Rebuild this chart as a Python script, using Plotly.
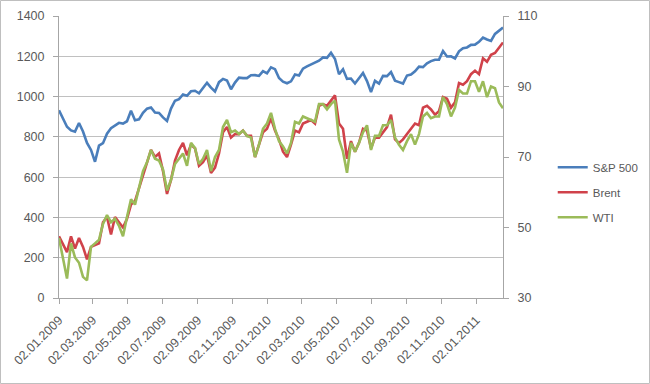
import datetime as dt
import plotly.graph_objects as go

# Weekly observations starting 02.01.2009
start_date = "2009-01-02"

sp500 = [931.8, 890.4, 850.1, 831.9, 825.9, 868.6, 826.8, 770.1, 735.1, 676.5, 756.6, 768.5, 815.9,
         842.5, 856.6, 869.6, 866.2, 877.5, 929.2, 882.9, 887.0, 919.1, 940.1, 946.2, 921.2, 918.9,
         896.4, 879.1, 940.4, 979.3, 987.5, 1010.5, 1004.1, 1026.1, 1028.9, 1016.4, 1042.7, 1068.3, 1044.4,
         1025.2, 1071.5, 1087.7, 1079.6, 1036.2, 1069.3, 1093.5, 1091.4, 1091.5, 1106.0, 1106.4, 1102.5, 1126.5,
         1115.1, 1145.0, 1136.0, 1091.8, 1073.9, 1066.2, 1075.5, 1109.2, 1104.5, 1138.7, 1150.0, 1159.9, 1166.6,
         1178.1, 1194.4, 1192.1, 1217.3, 1186.7, 1110.9, 1135.7, 1087.7, 1089.4, 1064.9, 1091.6, 1117.5, 1076.8,
         1022.6, 1078.0, 1064.9, 1102.7, 1101.6, 1121.6, 1079.3, 1071.7, 1064.6, 1104.5, 1109.6, 1125.6, 1148.7,
         1146.2, 1165.2, 1176.2, 1183.1, 1183.3, 1225.9, 1199.2, 1199.7, 1189.4, 1224.7, 1240.4, 1243.9, 1256.8,
         1257.6, 1271.5, 1293.2, 1283.4, 1276.3, 1310.9, 1329.2, 1343.0]

brent = [47.5, 45.0, 43.0, 47.5, 44.0, 47.0, 44.5, 41.0, 44.5, 45.0, 45.5, 51.5, 53.0,
         48.0, 53.0, 51.5, 50.0, 52.5, 56.5, 57.5, 61.0, 65.0, 68.5, 72.0, 70.0, 71.0,
         66.0, 59.5, 63.5, 69.0, 72.0, 74.0, 70.5, 73.5, 72.5, 67.5, 68.5, 70.5, 65.5,
         67.0, 71.0, 77.0, 78.5, 75.5, 76.5, 76.5, 77.5, 76.0, 76.0, 70.0, 73.5, 77.0,
         78.0, 81.0, 77.5, 75.0, 71.5, 70.0, 73.5, 77.5, 77.0, 79.5, 80.0, 80.5, 79.5,
         84.5, 85.0, 84.5, 86.0, 87.5, 79.5, 78.0, 69.5, 74.5, 71.5, 74.0, 78.0, 77.5,
         72.5, 75.5, 75.5, 77.0, 78.5, 82.0, 75.0, 74.0, 75.0, 76.5, 78.0, 79.5, 79.0,
         84.0, 84.5, 83.5, 82.0, 83.0, 87.0, 86.5, 84.0, 85.5, 91.0, 90.5, 91.5, 93.5,
         94.5, 93.5, 98.0, 97.0, 99.0, 99.5, 101.0, 102.5]

wti = [47.0, 41.0, 35.5, 45.5, 41.5, 40.0, 36.0, 35.0, 44.5, 45.5, 46.5, 51.0, 53.5,
       51.5, 52.5, 50.5, 47.5, 53.0, 58.0, 56.5, 61.5, 66.0, 68.5, 72.0, 69.5, 69.0,
       66.5, 60.5, 63.5, 68.0, 69.5, 71.0, 67.5, 74.0, 72.5, 68.0, 69.5, 72.0, 66.0,
       70.0, 72.0, 78.5, 80.5, 77.0, 77.5, 76.5, 77.5, 76.0, 75.5, 70.0, 73.5, 78.0,
       79.5, 82.5, 78.0, 74.5, 73.0, 71.0, 74.0, 80.0, 79.5, 81.5, 81.0, 80.5, 80.0,
       85.0, 85.0, 83.5, 85.0, 86.0, 75.0, 71.5, 65.5, 74.0, 71.5, 74.0, 77.0, 79.0,
       72.0, 76.0, 76.0, 79.0, 79.0, 80.5, 75.5, 73.5, 72.0, 74.5, 76.5, 73.5, 76.5,
       81.5, 82.5, 81.0, 81.5, 81.5, 87.0, 85.0, 81.5, 84.0, 89.0, 88.0, 88.0, 91.5,
       91.5, 88.5, 91.5, 87.0, 90.0, 89.5, 85.5, 83.8]

series_names = ["S&P 500", "Brent", "WTI"]
left_ticks = [0, 200, 400, 600, 800, 1000, 1200, 1400]
right_ticks = [30, 50, 70, 90, 110]

d0 = dt.date.fromisoformat(start_date)
dates = [d0 + dt.timedelta(days=7 * i) for i in range(len(sp500))]

TXT = "#595959"
FONT = "Liberation Sans"
TS = 12.5

fig = go.Figure()
fig.add_trace(go.Scatter(x=dates, y=sp500, name=series_names[0], mode="lines",
                         line=dict(color="#4a7ebb", width=2.6), legendgroup="a"))
fig.add_trace(go.Scatter(x=dates, y=brent, name=series_names[1], mode="lines", yaxis="y2",
                         line=dict(color="#d0424a", width=2.6), legendgroup="b"))
fig.add_trace(go.Scatter(x=dates, y=wti, name=series_names[2], mode="lines", yaxis="y2",
                         line=dict(color="#9bbb59", width=2.6), legendgroup="c"))

fig.update_layout(
    width=650, height=384,
    margin=dict(l=59, r=147, t=16, b=86, autoexpand=False),
    paper_bgcolor="white", plot_bgcolor="white",
    font=dict(family=FONT, size=TS, color=TXT),
    xaxis=dict(type="date", range=[dates[0], dates[-1]], tick0=start_date, dtick="M2",
               tickformat="%d.%m.%Y", tickangle=-45, ticks="outside", ticklen=5,
               tickcolor="#a6a6a6", showline=True, linecolor="#a6a6a6", showgrid=False,
               automargin=False,
               tickfont=dict(size=TS, color=TXT, family=FONT), ticklabelstandoff=4),
    yaxis=dict(range=[0, 1400], tickvals=left_ticks, showgrid=True, gridcolor="#c0c0c0",
               gridwidth=1, showline=True, linecolor="#a6a6a6", ticks="outside", ticklen=5,
               tickcolor="#a6a6a6", zeroline=False, ticklabelstandoff=6, automargin=False,
               tickfont=dict(size=TS, color=TXT, family=FONT)),
    yaxis2=dict(range=[30, 110], tickvals=right_ticks, overlaying="y", side="right",
                showgrid=False, showline=True, linecolor="#a6a6a6", ticks="outside", ticklen=5,
                tickcolor="#a6a6a6", zeroline=False, ticklabelstandoff=6, automargin=False,
                tickfont=dict(size=TS, color=TXT, family=FONT)),
    legend=dict(x=1.112, y=0.515, xanchor="left", yanchor="top", traceorder="grouped",
                tracegroupgap=6, font=dict(size=11.5, color=TXT, family=FONT),
                bgcolor="rgba(0,0,0,0)"),
    showlegend=True,
)

# outer chart border
pw = 650 - 59 - 147
ph = 384 - 16 - 86
fig.add_shape(type="rect", xref="paper", yref="paper",
              x0=(0.5 - 59) / pw, x1=(649.5 - 59) / pw,
              y0=-(383.5 - 16 - ph) / ph, y1=1 + (16 - 0.5) / ph,
              line=dict(color="#bfbfbf", width=1), layer="below")

fig.write_html("out.html")
